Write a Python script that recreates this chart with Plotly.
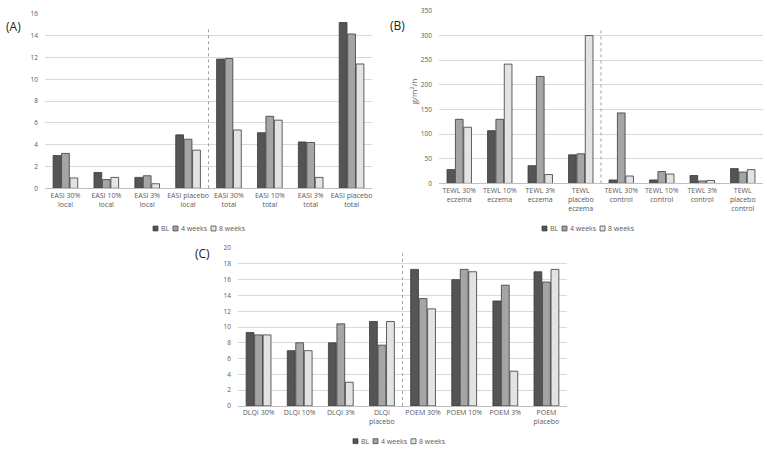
import plotly.graph_objects as go

W, H = 767, 455

series_names = ["BL", "4 weeks", "8 weeks"]
series_colors = ["#555555", "#a5a5a5", "#e3e3e3"]

cats_a = ["EASI 30%<br>local", "EASI 10%<br>local", "EASI 3%<br>local", "EASI placebo<br>local",
          "EASI 30%<br>total", "EASI 10%<br>total", "EASI 3%<br>total", "EASI placebo<br>total"]
a_bl = [3.0, 1.45, 1.0, 4.9, 11.85, 5.1, 4.25, 15.2]
a_4w = [3.2, 0.8, 1.15, 4.5, 11.9, 6.6, 4.2, 14.15]
a_8w = [0.95, 1.0, 0.42, 3.5, 5.35, 6.25, 1.0, 11.4]

cats_b = ["TEWL 30%<br>eczema", "TEWL 10%<br>eczema", "TEWL 3%<br>eczema", "TEWL<br>placebo<br>eczema",
          "TEWL 30%<br>control", "TEWL 10%<br>control", "TEWL 3%<br>control", "TEWL<br>placebo<br>control"]
b_bl = [28, 107, 36, 58, 7, 7, 16, 30]
b_4w = [130, 130, 217, 60, 143, 24, 5, 23]
b_8w = [114, 242, 18, 300, 15, 19, 6, 28]

cats_c = ["DLQI 30%", "DLQI 10%", "DLQI 3%", "DLQI<br>placebo",
          "POEM 30%", "POEM 10%", "POEM 3%", "POEM<br>placebo"]
c_bl = [9.3, 7.0, 8.0, 10.7, 17.3, 16.0, 13.3, 17.0]
c_4w = [9.0, 8.0, 10.4, 7.7, 13.6, 17.3, 15.3, 15.7]
c_8w = [9.0, 7.0, 3.0, 10.7, 12.3, 17.0, 4.4, 17.3]

FONT = "Open Sans"
TICK = dict(family=FONT, size=7, color="#595959")
OUTLINE = "#3a3a3a"

fig = go.Figure()

panels = [
    ("x", "y", cats_a, [a_bl, a_4w, a_8w]),
    ("x2", "y2", cats_b, [b_bl, b_4w, b_8w]),
    ("x3", "y3", cats_c, [c_bl, c_4w, c_8w]),
]
for xa, ya, cats, vals in panels:
    for name, col, v in zip(series_names, series_colors, vals):
        fig.add_trace(go.Bar(x=cats, y=v, name=name, xaxis=xa, yaxis=ya, showlegend=False,
                             marker=dict(color=col, line=dict(color=OUTLINE, width=0.8))))

def px_x(p):
    return p / W

def px_y(p):
    return 1 - p / H

axis_common = dict(showgrid=False, showline=True, linecolor="#bfbfbf", linewidth=1,
                   ticks="", tickfont=TICK, fixedrange=True)
yaxis_common = dict(showgrid=True, gridcolor="#d9d9d9", gridwidth=1, zeroline=False,
                    showline=False, ticks="", tickfont=dict(family=FONT, size=6.5, color="#595959"),
                    ticklabelstandoff=6)

fig.update_layout(
    width=W, height=H, margin=dict(l=0, r=0, t=0, b=0),
    paper_bgcolor="white", plot_bgcolor="white",
    barmode="group", bargap=0.38, bargroupgap=0.08,
    font=dict(family=FONT, color="#595959"),
    showlegend=False,
    xaxis=dict(domain=[px_x(45), px_x(372)], anchor="y", **axis_common),
    yaxis=dict(domain=[px_y(187), px_y(9)], range=[0, 16], dtick=2, anchor="x", **yaxis_common),
    xaxis2=dict(domain=[px_x(439), px_x(763)], anchor="y2", **axis_common),
    yaxis2=dict(domain=[px_y(182), px_y(6)], range=[0, 350], dtick=50, anchor="x2", **yaxis_common),
    xaxis3=dict(domain=[px_x(238), px_x(567)], anchor="y3", **axis_common),
    yaxis3=dict(domain=[px_y(409), px_y(248)], range=[0, 20], dtick=2, anchor="x3", **yaxis_common),
)

# dashed separators
for xr, yr, top in [("x", "y", 14.6), ("x2", "y2", 310), ("x3", "y3", 19.3)]:
    fig.add_shape(type="line", xref=xr, yref=yr, x0=3.5, x1=3.5, y0=0, y1=top,
                  line=dict(color="#a0a0a0", width=1, dash="dot"))

# compact legends (swatch + label), one per panel
legend_origins = [(153, 228), (542, 228), (353, 445)]
swatch_offsets = [0, 20, 58]
for ox, oy in legend_origins:
    for name, col, off in zip(series_names, series_colors, swatch_offsets):
        sx = ox + off
        fig.add_shape(type="rect", xref="paper", yref="paper",
                      x0=px_x(sx), x1=px_x(sx + 5), y0=px_y(oy + 2.5), y1=px_y(oy - 2.5),
                      fillcolor=col, line=dict(color=OUTLINE, width=0.7))
        fig.add_annotation(text=name, xref="paper", yref="paper", x=px_x(sx + 6), y=px_y(oy),
                           xanchor="left", yanchor="middle", showarrow=False,
                           font=dict(family=FONT, size=7, color="#595959"))

# panel labels
for txt, x, y in [("(A)", 14, 22), ("(B)", 397, 21), ("(C)", 202, 254)]:
    fig.add_annotation(text=txt, xref="paper", yref="paper", x=px_x(x), y=px_y(y),
                       xanchor="center", yanchor="middle",
                       showarrow=False, font=dict(family=FONT, size=12, color="#222222"))

fig.add_annotation(text="g/m<sup>2</sup>/h", xref="paper", yref="paper", x=px_x(413), y=px_y(88),
                   xanchor="center", yanchor="middle",
                   textangle=-90, showarrow=False, font=dict(family=FONT, size=8, color="#595959"))

fig.write_html("out.html")
